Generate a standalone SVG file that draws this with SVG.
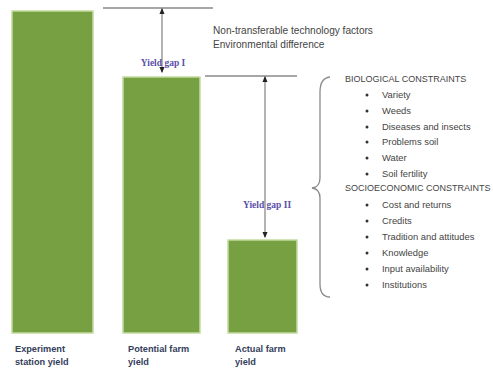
<svg xmlns="http://www.w3.org/2000/svg" width="493" height="370" viewBox="0 0 493 370">
<style>
.bar{fill:#76a042;stroke:#c3dca0;stroke-width:1.5}
.ln{stroke:#8a8a8a;stroke-width:1.3;fill:none}
.t{font-family:"Liberation Sans",Arial,sans-serif;font-size:9.4px;fill:#444}
.f{font-family:"Liberation Sans",Arial,sans-serif;font-size:10.1px;fill:#444}
.h{font-family:"Liberation Sans",Arial,sans-serif;font-size:9px;fill:#444}
.gap{font-family:"Liberation Serif","Times New Roman",serif;font-size:9.5px;font-weight:bold;fill:#5b4fa8}
.lab{font-family:"Liberation Sans",Arial,sans-serif;font-size:9.2px;font-weight:bold;fill:#34405a}
.b{fill:#333}
</style>
<defs>
<marker id="ah" viewBox="0 0 6 6" refX="5" refY="3" markerWidth="5" markerHeight="5" orient="auto-start-reverse">
<path d="M0,0.5 L6,3 L0,5.5 Z" fill="#222"/>
</marker>
</defs>
<rect width="493" height="370" fill="#ffffff"/>
<g id="bar-experiment"><rect class="bar" x="12" y="11" width="81" height="322"/>
<text class="lab" x="15" y="352">Experiment</text><text class="lab" x="15" y="365">station yield</text></g>
<g id="bar-potential"><rect class="bar" x="123" y="77" width="77" height="256"/>
<text class="lab" x="128" y="352">Potential farm</text><text class="lab" x="128" y="365">yield</text></g>
<g id="bar-actual"><rect class="bar" x="228" y="240" width="69" height="93"/>
<text class="lab" x="235" y="352">Actual farm</text><text class="lab" x="235" y="365">yield</text></g>
<g id="connectors">
<line class="ln" x1="103" y1="8" x2="213" y2="8"/>
<line class="ln" x1="205" y1="76" x2="297" y2="76"/>
<line class="ln" x1="162" y1="9" x2="162" y2="72" stroke="#666" marker-start="url(#ah)" marker-end="url(#ah)"/>
<line class="ln" x1="265" y1="77" x2="265" y2="237" stroke="#666" marker-start="url(#ah)" marker-end="url(#ah)"/>
<path class="ln" d="M330,77 Q320,78 320,92 L320,178 Q320,187 312,188 Q320,189 320,198 L320,284 Q320,297 330,297"/>
</g>
<g id="gap1"><text class="gap" x="163" y="66" text-anchor="middle">Yield gap I</text></g>
<g id="gap2"><text class="gap" x="267" y="208" text-anchor="middle">Yield gap II</text></g>
<g id="factors">
<text class="f" x="213" y="34">Non-transferable technology factors</text>
<text class="f" x="213" y="48">Environmental difference</text>
</g>
<g id="constraints">
<text class="h" x="345" y="82">BIOLOGICAL CONSTRAINTS</text>
<circle class="b" cx="367" cy="95" r="1.5"/><text class="t" x="382" y="98">Variety</text>
<circle class="b" cx="367" cy="111" r="1.5"/><text class="t" x="382" y="114">Weeds</text>
<circle class="b" cx="367" cy="127" r="1.5"/><text class="t" x="382" y="130">Diseases and insects</text>
<circle class="b" cx="367" cy="142" r="1.5"/><text class="t" x="382" y="145">Problems soil</text>
<circle class="b" cx="367" cy="158" r="1.5"/><text class="t" x="382" y="161">Water</text>
<circle class="b" cx="367" cy="174" r="1.5"/><text class="t" x="382" y="177">Soil fertility</text>
<text class="h" x="345" y="191">SOCIOECONOMIC CONSTRAINTS</text>
<circle class="b" cx="367" cy="205" r="1.5"/><text class="t" x="382" y="208">Cost and returns</text>
<circle class="b" cx="367" cy="221" r="1.5"/><text class="t" x="382" y="224">Credits</text>
<circle class="b" cx="367" cy="237" r="1.5"/><text class="t" x="382" y="240">Tradition and attitudes</text>
<circle class="b" cx="367" cy="253" r="1.5"/><text class="t" x="382" y="256">Knowledge</text>
<circle class="b" cx="367" cy="269" r="1.5"/><text class="t" x="382" y="272">Input availability</text>
<circle class="b" cx="367" cy="285" r="1.5"/><text class="t" x="382" y="288">Institutions</text>
</g>
</svg>
